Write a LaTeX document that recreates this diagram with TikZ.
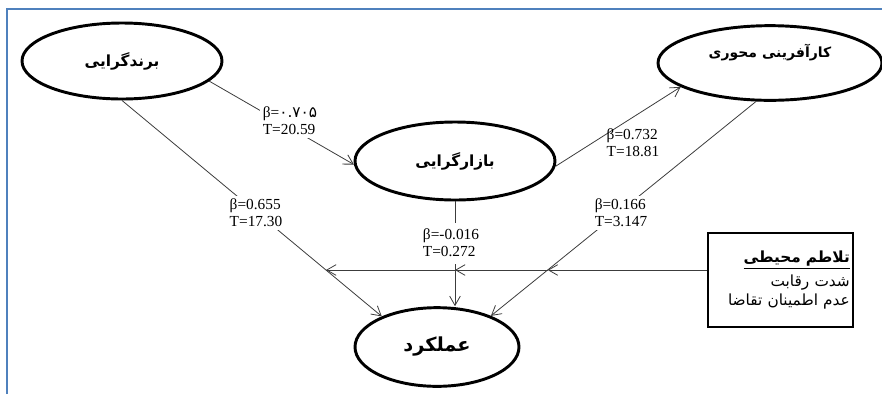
\documentclass[tikz,border=0pt]{standalone}
\usepackage{fontspec}
\setmainfont{Liberation Serif}
\newfontfamily\arabicfont[Script=Arabic]{DejaVu Sans}
\TeXXeTstate=1
\usepackage{tikz}
\usetikzlibrary{shapes.geometric,arrows.meta,calc,intersections}
\definecolor{frameblue}{RGB}{79,129,189}
\definecolor{pathgray}{RGB}{60,60,60}

\begin{document}
\begin{tikzpicture}[
      x=0.75pt,y=-0.75pt,
      construct/.style={draw,ellipse,line width=2.2pt,inner sep=0pt},
      persian/.style={font=\arabicfont\bfseries\fontsize{#1}{#1}\selectfont},
      coef/.style={font=\fontsize{11.5}{12.5}\selectfont,align=left,inner sep=2.5pt},
      link/.style={draw=pathgray,line width=0.6pt},
      every path/.style={>={Straight Barb[length=7pt,width=8pt]}},
      ]
      \useasboundingbox (0,0) rectangle (882,394);
      \draw[frameblue,line width=1.5pt] (7,394) -- (7,9) -- (882,9);
      % constructs
      \node[construct,persian=11.5,minimum width=150pt,minimum height=57pt] (brand) at (122,61) {\beginR برندگرایی\endR};
      \node[construct,persian=11.5,minimum width=150pt,minimum height=58.5pt] (bazar) at (455,161) {\beginR بازارگرایی\endR};
      \node[construct,persian=10.5,minimum width=168pt,minimum height=56pt,text height=7pt,text depth=16pt] (kar) at (770,63) {\beginR کارآفرینی محوری\endR};
      \node[construct,persian=14.5,minimum width=123pt,minimum height=59pt] (amal) at (437,347) {\beginR عملکرد\endR};
      \node[draw,line width=0.8pt,minimum width=108.75pt,minimum height=70.5pt,text width=104pt,align=right,inner xsep=2pt,font=\arabicfont\fontsize{11.5}{13}\selectfont] (turb) at (780.5,280)
        {\textbf{\underline{\beginR تلاطم محیطی\endR}}\\[3pt] \beginR شدت رقابت\endR\\[1pt] \beginR عدم اطمینان تقاضا\endR};
      % paths
      \path[->]
      (brand.-13) edge[link] (bazar.182)
      (bazar.-3) edge[link] (kar.195);
      \draw[->,link] (bazar.south) -- (bazar.south |- amal.north);
      \draw[->,link,name path=brandline] (brand.south) -- (amal.151);
      \draw[->,link,name path=karline] (kar.-110) -- (amal.30);
      % moderator
      \coordinate (modR) at ($(turb.west)+(0,-10)$);
      \path[name path=modline] (modR) -- ++(-600,0);
      \path[name intersections={of=modline and karline,by=modA}];
      \path[name intersections={of=modline and brandline,by=modC}];
      \coordinate (modB) at (bazar.south |- modR);
      \draw[->,link] (modR) -- (modA);
      \draw[->,link] (modA) -- (modB);
      \draw[->,link] (modB) -- (modC);
      % coefficients
      \node[coef,fill=white] (coefBB) at (290,121) {β={\arabicfont ۰.۷۰۵}\\T=20.59};
      \node[coef,fill=white] (coefBA) at (256,213) {β=0.655\\T=17.30};
      \node[coef] (coefBK) at (633,143) {β=0.732\\T=18.81};
      \node[coef,fill=white] (coefKA) at (621,213) {β=0.166\\T=3.147};
      \node[coef,fill=white,inner ysep=5pt] (coefZA) at (451,243) {β=-0.016\\T=0.272};
    \end{tikzpicture}
\end{document}
